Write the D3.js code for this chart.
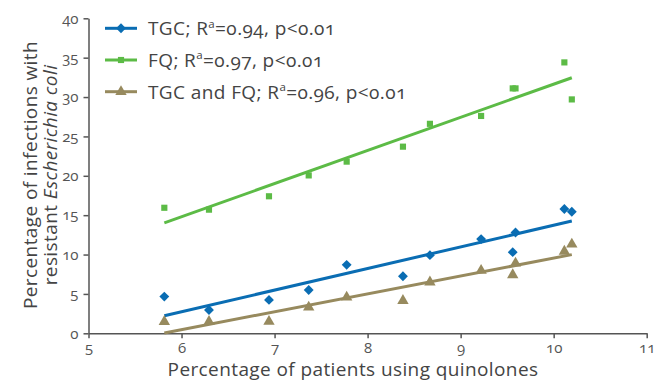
<!DOCTYPE html>
<meta charset="utf-8">
<style>
    body { margin: 0; background: #fff; }
    text {
        font-family: "Open Sans", Lato, sans-serif;
        font-variant-numeric: oldstyle-nums;
        fill: #444;
    }
    .title { font-size: 19px; letter-spacing: 0.4px; }
    .axis path, .axis line { stroke: #555; stroke-width: 1.5px; }
    .axis text { font-size: 15px; fill: #555; }
</style>
<body>
<div id="chart"></div>
<script src="https://d3js.org/d3.v7.min.js"></script>
<script>
    // quinolone use (% of patients)
    var xVals = [5.815, 6.295, 6.94, 7.367, 7.775, 8.38, 8.67, 9.22, 9.56, 9.59, 10.115, 10.195];
    // % resistant E. coli
    var tgc   = [4.66, 2.96, 4.24, 5.5, 8.69, 7.25, 9.92, 11.96, 10.3, 12.8, 15.78, 15.43];
    var fq    = [15.94, 15.7, 17.4, 20.05, 21.8, 23.7, 26.6, 27.6, 31.1, 31.1, 34.4, 29.7];
    var both  = [1.48, 1.48, 1.5, 3.3, 4.58, 4.15, 6.5, 7.97, 7.42, 8.9, 10.4, 11.3];

    var seriesNames = ["TGC", "FQ", "TGC and FQ"];
    var rValues = ["0.94", "0.97", "0.96"];
    var xTicks = [5, 6, 7, 8, 9, 10, 11];
    var yTicks = [0, 5, 10, 15, 20, 25, 30, 35, 40];

    var width = 654,
        height = 382;

    var series = [
        { name: seriesNames[0], r: rValues[0], values: tgc,  color: "#0a6db3", symbol: "diamond" },
        { name: seriesNames[1], r: rValues[1], values: fq,   color: "#5cbb46", symbol: "square" },
        { name: seriesNames[2], r: rValues[2], values: both, color: "#978a5e", symbol: "triangle" }
    ];

    var x = d3.scaleLinear().domain([5, 11]).range([88.5, 646.7]);
    var y = d3.scaleLinear().domain([0, 40]).range([333.3, 18.3]);

    var svg = d3.select("#chart").append("svg")
        .attr("width", width)
        .attr("height", height);

    // axes
    svg.append("g")
        .attr("class", "axis")
        .attr("transform", "translate(0," + y(0) + ")")
        .call(d3.axisBottom(x).tickValues(xTicks).tickFormat(d3.format("d"))
            .tickSize(5).tickSizeOuter(0).tickPadding(4));

    svg.append("g")
        .attr("class", "axis")
        .attr("transform", "translate(" + x(5) + ",0)")
        .call(d3.axisLeft(y).tickValues(yTicks).tickFormat(d3.format("d"))
            .tickSize(5).tickSizeOuter(0).tickPadding(5));

    // least squares fit
    function fit(xs, ys) {
        var mx = d3.mean(xs), my = d3.mean(ys);
        var sxy = d3.sum(xs, function (d, i) { return (d - mx) * (ys[i] - my); });
        var sxx = d3.sum(xs, function (d) { return (d - mx) * (d - mx); });
        var b = sxy / sxx;
        return function (v) { return my + b * (v - mx); };
    }

    function symbolPath(s) {
        if (s === "diamond") return d3.symbol().type(d3.symbolDiamond2).size(62)();
        if (s === "square") return d3.symbol().type(d3.symbolSquare).size(38)();
        return d3.symbol().type(d3.symbolTriangle).size(56)();
    }

    var x0 = d3.min(xVals), x1 = d3.max(xVals);

    series.forEach(function (s) {
        var f = fit(xVals, s.values);
        svg.append("line")
            .attr("x1", x(x0)).attr("y1", y(f(x0)))
            .attr("x2", x(x1)).attr("y2", y(f(x1)))
            .attr("stroke", s.color)
            .attr("stroke-width", 3);

        svg.append("g").selectAll("path")
            .data(s.values)
            .enter().append("path")
            .attr("d", symbolPath(s.symbol))
            .attr("transform", function (d, i) {
                return "translate(" + x(xVals[i]) + "," + y(d) + ")";
            })
            .attr("fill", s.color);
    });

    // legend
    var legend = svg.append("g");
    series.forEach(function (s, i) {
        var ly = 28.3 + i * 31.7;
        legend.append("line")
            .attr("x1", 105).attr("x2", 137)
            .attr("y1", ly).attr("y2", ly)
            .attr("stroke", s.color)
            .attr("stroke-width", 3);
        legend.append("path")
            .attr("d", symbolPath(s.symbol))
            .attr("transform", "translate(121," + ly + ")")
            .attr("fill", s.color);
        var t = legend.append("text")
            .attr("class", "title")
            .attr("x", 148)
            .attr("y", ly + 6.8);
        t.append("tspan").text(s.name + "; R");
        t.append("tspan").attr("dy", -7.5).style("font-size", "11.5px").text("a");
        t.append("tspan").attr("dy", 7.5).text("=" + s.r + ", p<0.01");
    });

    // axis titles
    svg.append("text")
        .attr("class", "title")
        .attr("x", 353)
        .attr("y", 376)
        .attr("text-anchor", "middle")
        .text("Percentage of patients using quinolones");

    var yt = svg.append("text")
        .attr("class", "title")
        .attr("transform", "translate(0,175) rotate(-90)")
        .attr("text-anchor", "middle");
    yt.append("tspan").attr("x", 0).attr("y", 37).text("Percentage of infections with");
    var l2 = yt.append("tspan").attr("x", 0).attr("y", 57);
    l2.append("tspan").text("resistant ");
    l2.append("tspan").style("font-style", "italic").text("Escherichia coli");
</script>
</body>
